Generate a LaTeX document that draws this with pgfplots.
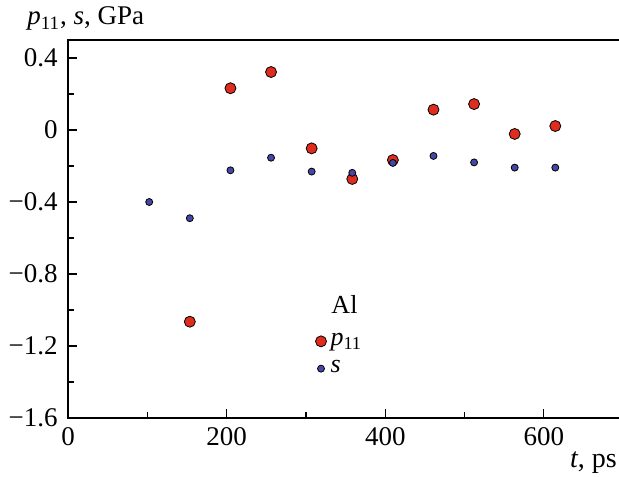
\documentclass[border=0pt,11pt]{standalone}
\usepackage{fontspec}
\setmainfont{Liberation Serif}
\usepackage{pgfplots}
\pgfplotsset{compat=1.18}
\definecolor{pred}{HTML}{DE2C1E}
\definecolor{pblue}{HTML}{4447A6}
\pgfplotsset{legmark/.style={legend image code/.code={\draw[mark repeat=2,mark phase=2,##1] plot coordinates {(0cm,0cm) (0.12cm,0cm) (0.31cm,0cm)};}}}
\begin{document}
\fontsize{13.5}{16}\selectfont
\begin{tikzpicture}
\begin{axis}[
  name=ax,
  scale only axis, width=277.6pt, height=189pt,
  xmin=0, xmax=700, ymin=-1.6, ymax=0.5,
  xtick={0,200,400,600}, xticklabels={0,200,400,600},
  minor xtick={100,300,500},
  ytick={-1.6,-1.2,-0.8,-0.4,0,0.4},
  yticklabels={−1.6,−1.2,−0.8,−0.4,0,0.4},
  minor ytick={-1.4,-1.0,-0.6,-0.2,0.2},
  tick pos=left, tick align=inside,
  major tick length=4.5pt, minor tick length=3pt,
  every tick/.style={black, line width=0.6pt},
  axis line style={line width=0.9pt},
  tick label style={font=\fontsize{13.5}{16}\selectfont},
  yticklabel style={xshift=-0.5pt},
  legend style={draw=none, fill=none, at={(axis cs:304,-1.25)}, anchor=west, row sep=1.5pt, font=\fontsize{13}{15}\selectfont},
  legend cell align=left,
]
\addplot[only marks, mark=*, mark size=2.75pt, mark options={fill=pred, draw=black, line width=0.4pt}, legmark]
 coordinates {(153.6,-1.065) (204.8,0.232) (256,0.322) (307.2,-0.102) (358.4,-0.272) (409.6,-0.167) (460.8,0.113) (512,0.144) (563.2,-0.022) (614.4,0.022)};
\addlegendentry{\textit{p}\textsubscript{11}}
\addplot[only marks, mark=*, mark size=1.75pt, mark options={fill=pblue, draw=black, line width=0.4pt}, legmark]
 coordinates {(102.4,-0.40) (153.6,-0.49) (204.8,-0.224) (256,-0.154) (307.2,-0.231) (358.4,-0.238) (409.6,-0.183) (460.8,-0.144) (512,-0.18) (563.2,-0.209) (614.4,-0.209)};
\addlegendentry{\textit{s}}
\node[anchor=base west, inner sep=0pt, font=\fontsize{13}{15}\selectfont] at (axis cs:331.7,-1.02) {Al};
\end{axis}
\node[anchor=base west, inner sep=0pt, font=\fontsize{13.5}{16}\selectfont] at ([xshift=-20.5pt, yshift=7.5pt]ax.north west) {\textit{p}\textsubscript{11}, \textit{s}, GPa};
\node[anchor=base east, inner sep=0pt, font=\fontsize{14}{16}\selectfont] at ([xshift=-3pt, yshift=-24.5pt]ax.south east) {\textit{t}, ps};
\pgfresetboundingbox
\path[use as bounding box] ([xshift=-34pt,yshift=-29pt]ax.south west) rectangle ([xshift=275.5pt,yshift=20pt]ax.north west);
\end{tikzpicture}
\end{document}
